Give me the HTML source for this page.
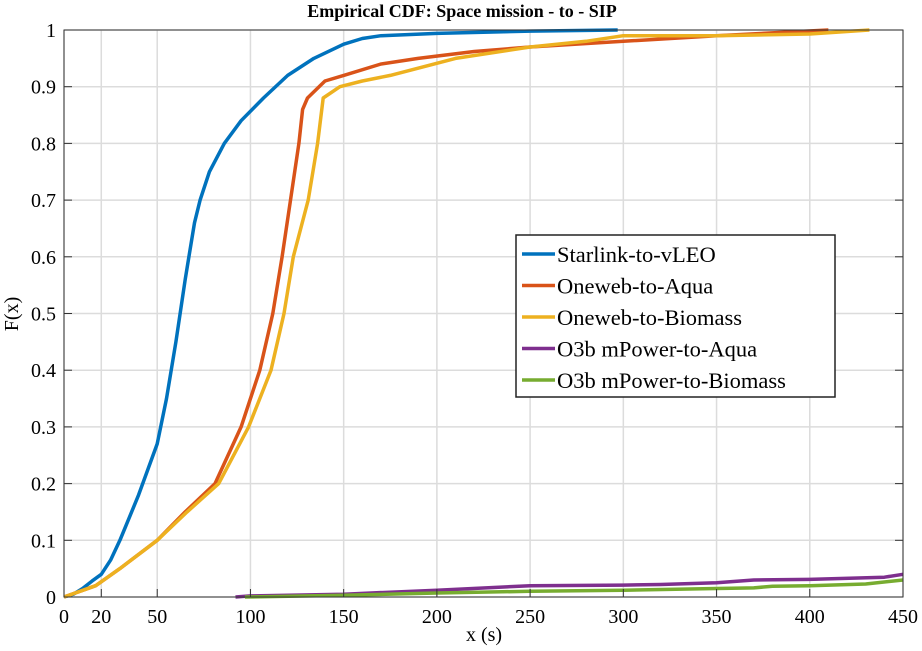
<!DOCTYPE html>
<html><head><meta charset="utf-8"><style>
body{margin:0;background:#fff;}
svg text{font-family:"Liberation Serif",serif;fill:#000;}
</style></head><body>
<svg id="chart" width="922" height="646">
<g id="grid"></g>
<g id="series"></g>
<g id="axes"></g>
<text x="462" y="17" font-size="18" font-weight="bold" text-anchor="middle">Empirical CDF: Space mission - to - SIP</text>
<text x="484" y="641" font-size="20" text-anchor="middle">x (s)</text>
<text transform="translate(18,314) rotate(-90)" font-size="20" text-anchor="middle">F(x)</text>
<g id="legend"></g>
</svg>
<script>
const xTicks=[0,20,50,100,150,200,250,300,350,400,450];
const yTicks=[0,0.1,0.2,0.3,0.4,0.5,0.6,0.7,0.8,0.9,1];
const yTickLabels=["0","0.1","0.2","0.3","0.4","0.5","0.6","0.7","0.8","0.9","1"];
const seriesNames=["Starlink-to-vLEO","Oneweb-to-Aqua","Oneweb-to-Biomass","O3b mPower-to-Aqua","O3b mPower-to-Biomass"];
const seriesColors=["#0072BD","#D95319","#EDB120","#7E2F8E","#77AC30"];
const starX=[0,5,10,15,20,25,30,35,40,45,50,55,60,65,67,70,73,78,86,95,107,120,134,150,160,170,200,250,297];
const starY=[0,0.005,0.015,0.028,0.04,0.065,0.1,0.14,0.18,0.225,0.27,0.35,0.45,0.56,0.6,0.66,0.7,0.75,0.8,0.84,0.88,0.92,0.95,0.975,0.985,0.99,0.994,0.998,1];
const aquaX=[0,17,30,50,65,81,95,105,112,117,121.5,126,128,130.6,140,150,170,190,220,250,300,350,410];
const aquaY=[0,0.02,0.05,0.1,0.15,0.2,0.3,0.4,0.5,0.6,0.7,0.8,0.86,0.88,0.91,0.92,0.94,0.95,0.962,0.97,0.98,0.99,1];
const bioX=[0,17,30,50,66,83,99,111,118,123,131,136,139,148,160,175,210,250,280,300,350,400,432];
const bioY=[0,0.02,0.05,0.1,0.15,0.2,0.3,0.4,0.5,0.6,0.7,0.8,0.88,0.9,0.91,0.92,0.95,0.97,0.98,0.99,0.99,0.993,1];
const o3aX=[92,100,150,200,250,300,320,350,370,400,440,450];
const o3aY=[0,0.002,0.005,0.012,0.02,0.021,0.022,0.025,0.03,0.031,0.035,0.04];
const o3bX=[97,150,200,250,300,350,370,380,400,430,450];
const o3bY=[0,0.003,0.007,0.01,0.012,0.015,0.016,0.019,0.02,0.023,0.03];
const seriesX=[starX,aquaX,bioX,o3aX,o3bX];
const seriesY=[starY,aquaY,bioY,o3aY,o3bY];

const L=64,R=903,T=30,B=597;
const sx=v=>L+(v-0)/450*(R-L);
const sy=v=>B-v*(B-T);
const NS="http://www.w3.org/2000/svg";
function mk(tag,attrs,parent){const e=document.createElementNS(NS,tag);for(const k in attrs)e.setAttribute(k,attrs[k]);parent.appendChild(e);return e;}
const grid=document.getElementById('grid'),axes=document.getElementById('axes'),ser=document.getElementById('series'),leg=document.getElementById('legend');
xTicks.forEach(t=>{
  const g=mk('line',{x1:sx(t),x2:sx(t),y1:T,y2:B,stroke:'#dcdcdc','stroke-width':1.5},grid);
  
  
  const tk=mk('line',{x1:sx(t),x2:sx(t),y1:B,y2:B-8,stroke:'#333'},axes);
  
  
  const tx=mk('text',{x:sx(t),y:B+26,'font-size':20,'text-anchor':'middle'},axes);
  tx.textContent=t;
  
  
});
yTicks.forEach((t,i)=>{
  const g=mk('line',{x1:L,x2:R,y1:sy(t),y2:sy(t),stroke:'#dcdcdc','stroke-width':1.5},grid);
  
  
  const tk=mk('line',{x1:L,x2:L+8,y1:sy(t),y2:sy(t),stroke:'#333'},axes);
  
  
  const tk2=mk('line',{x1:R,x2:R-8,y1:sy(t),y2:sy(t),stroke:'#333'},axes);
  
  
  const tx=mk('text',{x:L-8,y:sy(t)+7,'font-size':20,'text-anchor':'end'},axes);
  tx.textContent=yTickLabels[i];
  
  
});
const box=mk('rect',{x:L,y:T,width:R-L,height:B-T,fill:'none',stroke:'#333','stroke-width':1},axes);


seriesX.forEach((xs,i)=>{
  const pts=xs.map((x,j)=>sx(x).toFixed(1)+','+sy(seriesY[i][j]).toFixed(1)).join(' ');
  const p=mk('polyline',{points:pts,fill:'none',stroke:seriesColors[i],'stroke-width':3.5,'stroke-linejoin':'round'},ser);
  
  
});
const lb=mk('rect',{x:516,y:235,width:319,height:162,fill:'#fff',stroke:'#222','stroke-width':1.5},leg);


seriesNames.forEach((n,i)=>{
  const y=254+i*31.5;
  const ln=mk('line',{x1:522,x2:555,y1:y,y2:y,stroke:seriesColors[i],'stroke-width':3.5},leg);
  
  
  const t=mk('text',{x:557,y:y+8,'font-size':22.5},leg);
  t.textContent=n;
  
  
});
</script>
</body></html>
